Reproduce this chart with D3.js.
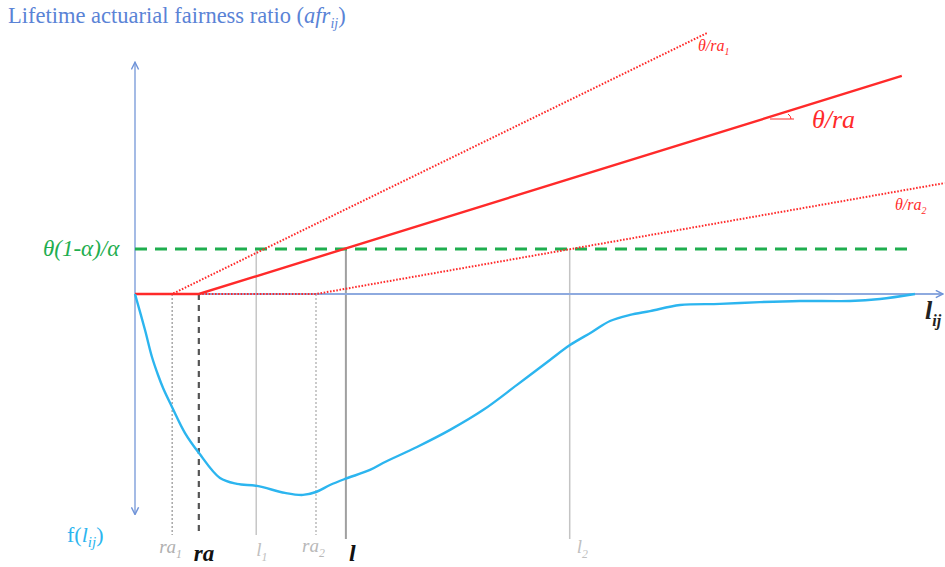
<!DOCTYPE html>
<html>
<head>
<meta charset="utf-8">
<script src="https://cdn.jsdelivr.net/npm/d3@7"></script>
<style>
  body { margin: 0; background: #fff; }
  text { font-family: "Liberation Serif", "DejaVu Serif", serif; }
</style>
</head>
<body>
<svg id="chart" width="945" height="567"></svg>
<script>
// reference points on the lifetime axis (model units)
const refNames = ["ra1", "ra", "l1", "ra2", "l", "l2"];
const refX = [4.6, 7.9, 15.0, 22.4, 26.1, 53.8];
// level theta(1-alpha)/alpha
const greenLevel = 20;
// afr lines: kink at ra, then rising to end point
const afrLines = [
  { name: "ra1", ra: 4.6, end: [70.8, 116] },
  { name: "ra", ra: 7.9, end: [94.9, 96.9] },
  { name: "ra2", ra: 22.4, end: [100.2, 49.3] }
];
// density curve f(l_ij)
const fX = [0, 1.24, 2.1, 2.85, 3.5, 4.58, 6.19, 7.92, 10.52, 12.62, 15.1, 18.56, 20.79, 22.4, 24.13, 25.99, 29.08, 30.69, 34.9, 38.99, 43.07, 47.28, 51.36, 53.84, 56.56, 58.79, 61.26, 63.74, 67.45, 72.4, 77.35, 82.3, 88.49, 92.2, 96.53];
const fY = [0, -16, -28, -36, -42, -50.2, -61.8, -70.7, -81.8, -84.4, -85.3, -88.4, -89.3, -88, -84.9, -82.2, -78.2, -75.1, -68, -60.4, -51.6, -40.4, -29.3, -22.7, -16.9, -12, -9.3, -7.6, -4.9, -4.4, -3.6, -3.1, -3.1, -2.2, 0];

const svg = d3.select("#chart");
const x = d3.scaleLinear().domain([0, 100]).range([135, 943]);
const y = d3.scaleLinear().domain([0, 100]).range([294, 69]);

const axisColor = "#8eaadf";
const red = "#ff2a2a";
const green = "#1fae4f";
const curveColor = "#2cb5ef";

// arrow markers
const defs = svg.append("defs");
defs.append("marker").attr("id", "arrow")
  .attr("viewBox", "0 0 10 10").attr("refX", 9).attr("refY", 5)
  .attr("markerWidth", 9).attr("markerHeight", 9)
  .attr("markerUnits", "userSpaceOnUse")
  .attr("orient", "auto-start-reverse")
  .append("path").attr("d", "M1,1 L9,5 L1,9")
  .attr("fill", "none").attr("stroke", "#6f93d8").attr("stroke-width", 1.6);

// vertical reference lines
const refStyle = {
  ra1: { color: "#9a9a9a", w: 1.3, dash: "2,2", top: 0, bottom: 535 },
  ra: { color: "#555", w: 2.2, dash: "6,5", top: 0, bottom: 535 },
  l1: { color: "#bdbdbd", w: 1.3, dash: null, top: greenLevel, bottom: 535 },
  ra2: { color: "#a8a8a8", w: 1.2, dash: "2,2", top: 0, bottom: 535 },
  l: { color: "#a0a0a0", w: 2, dash: null, top: greenLevel, bottom: 539 },
  l2: { color: "#c4c4c4", w: 1.5, dash: null, top: greenLevel, bottom: 539 }
};
refNames.forEach((n, i) => {
  const s = refStyle[n];
  svg.append("line")
    .attr("x1", x(refX[i])).attr("x2", x(refX[i]))
    .attr("y1", y(s.top)).attr("y2", s.bottom)
    .attr("stroke", s.color).attr("stroke-width", s.w)
    .attr("stroke-dasharray", s.dash);
});

// axes
svg.append("line")
  .attr("x1", x(0)).attr("x2", x(0))
  .attr("y1", y(-98)).attr("y2", y(103))
  .attr("stroke", axisColor).attr("stroke-width", 1.6)
  .attr("marker-start", "url(#arrow)").attr("marker-end", "url(#arrow)");
svg.append("line")
  .attr("x1", x(0)).attr("x2", x(100))
  .attr("y1", y(0)).attr("y2", y(0))
  .attr("stroke", axisColor).attr("stroke-width", 2)
  .attr("marker-end", "url(#arrow)");

// green dashed level
svg.append("line")
  .attr("x1", x(0)).attr("x2", x(95.6))
  .attr("y1", y(greenLevel)).attr("y2", y(greenLevel))
  .attr("stroke", green).attr("stroke-width", 3)
  .attr("stroke-dasharray", "12,8");

// afr lines
const line = d3.line().x(d => x(d[0])).y(d => y(d[1]));
afrLines.forEach(a => {
  const solid = a.name === "ra";
  svg.append("path")
    .attr("d", line([[0, 0], [a.ra, 0], a.end]))
    .attr("fill", "none").attr("stroke", red)
    .attr("stroke-width", solid ? 2.4 : 2)
    .attr("stroke-dasharray", solid ? null : "1.6,1.6");
});

// f(l_ij) curve
const fData = fX.map((v, i) => [v, fY[i]]);
svg.append("path")
  .attr("d", d3.line().x(d => x(d[0])).y(d => y(d[1])).curve(d3.curveCatmullRom)(fData))
  .attr("fill", "none").attr("stroke", curveColor).attr("stroke-width", 2.4);

// angle marker for theta/ra
svg.append("line").attr("x1", 770).attr("x2", 794).attr("y1", 119).attr("y2", 119)
  .attr("stroke", red).attr("stroke-width", 1);
svg.append("path").attr("d", "M788,114 Q791,116 791,119")
  .attr("fill", "none").attr("stroke", red).attr("stroke-width", 1);

// helper for text with subscript
function subText(xp, yp, main, sub, opts) {
  const t = svg.append("text").attr("x", xp).attr("y", yp)
    .attr("font-size", opts.size).attr("fill", opts.color)
    .attr("font-style", "italic").attr("font-weight", opts.weight || "normal");
  t.append("tspan").text(main);
  if (sub) t.append("tspan").attr("dy", opts.size * 0.28).attr("font-size", opts.size * 0.62).text(sub);
  return t;
}

// title
const title = svg.append("text").attr("x", 8).attr("y", 23)
  .attr("font-size", 22.5).attr("fill", "#5a83d6");
title.append("tspan").text("Lifetime actuarial fairness ratio (");
title.append("tspan").attr("font-style", "italic").text("afr");
title.append("tspan").attr("font-style", "italic").attr("font-size", 14).attr("dy", 5).text("ij");
title.append("tspan").attr("dy", -5).text(")");

// theta labels
subText(698, 51, "θ/ra", "1", { size: 16, color: red });
svg.append("text").attr("x", 812).attr("y", 128).attr("font-size", 26)
  .attr("font-style", "italic").attr("fill", red).text("θ/ra");
subText(895, 210, "θ/ra", "2", { size: 16, color: red });

// green label
svg.append("text").attr("x", 43).attr("y", 256).attr("font-size", 23)
  .attr("font-style", "italic").attr("fill", green).text("θ(1-α)/α");

// axis labels
subText(925, 319, "l", "ij", { size: 26, color: "#222", weight: "bold" });
const fl = svg.append("text").attr("x", 67).attr("y", 542)
  .attr("font-size", 22).attr("fill", curveColor);
fl.append("tspan").text("f(");
fl.append("tspan").attr("font-style", "italic").text("l");
fl.append("tspan").attr("font-style", "italic").attr("font-size", 15).attr("dy", 5).text("ij");
fl.append("tspan").attr("dy", -5).text(")");

// bottom labels
subText(x(refX[0]) - 13, 553, "ra", "1", { size: 19, color: "#b0b0b0" });
svg.append("text").attr("x", x(refX[1]) - 5).attr("y", 561).attr("font-size", 23)
  .attr("font-style", "italic").attr("font-weight", "bold").attr("fill", "#111").text("ra");
subText(x(refX[2]) + 0, 556, "l", "1", { size: 19, color: "#c0c0c0" });
subText(x(refX[3]) - 14, 552, "ra", "2", { size: 19, color: "#b8b8b8" });
svg.append("text").attr("x", x(refX[4]) + 3).attr("y", 561).attr("font-size", 24)
  .attr("font-style", "italic").attr("font-weight", "bold").attr("fill", "#111").text("l");
subText(x(refX[5]) + 7, 553, "l", "2", { size: 19, color: "#c0c0c0" });
</script>
</body>
</html>
